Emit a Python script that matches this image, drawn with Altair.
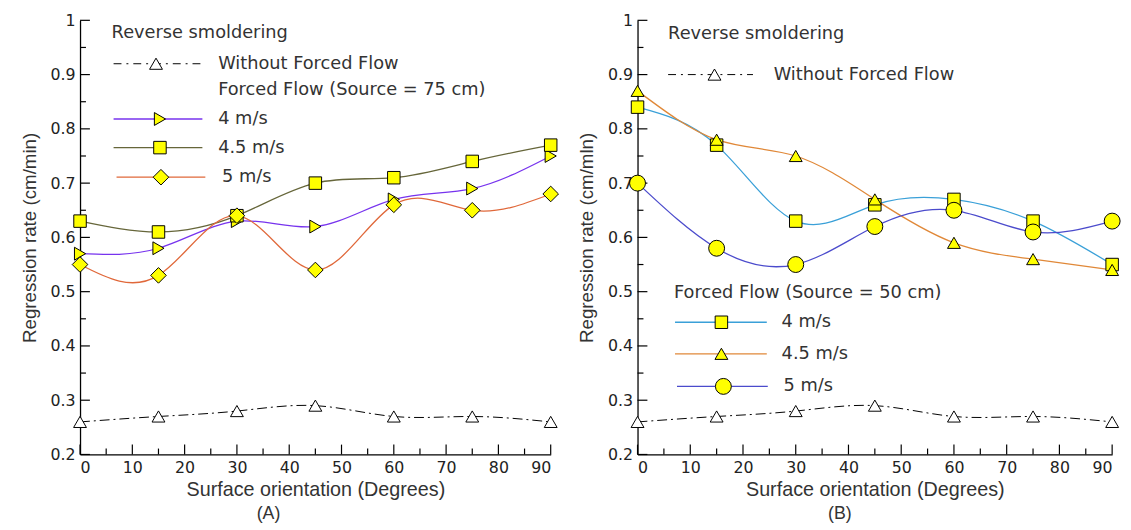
import altair as alt
import pandas as pd

# ---------------- data ----------------
angles = [0, 15, 30, 45, 60, 75, 90]

a_without = [0.26, 0.27, 0.28, 0.29, 0.27, 0.27, 0.26]
a_4 = [0.57, 0.58, 0.63, 0.62, 0.67, 0.69, 0.75]
a_45 = [0.63, 0.61, 0.64, 0.70, 0.71, 0.74, 0.77]
a_5 = [0.55, 0.53, 0.64, 0.54, 0.66, 0.65, 0.68]

b_without = [0.26, 0.27, 0.28, 0.29, 0.27, 0.27, 0.26]
b_4 = [0.84, 0.77, 0.63, 0.66, 0.67, 0.63, 0.55]
b_45 = [0.87, 0.78, 0.75, 0.67, 0.59, 0.56, 0.54]
b_5 = [0.70, 0.58, 0.55, 0.62, 0.65, 0.61, 0.63]

series_names = ["4 m/s", "4.5 m/s", "5 m/s"]

y_major = [0.2, 0.3, 0.4, 0.5, 0.6, 0.7, 0.8, 0.9, 1.0]
y_minor = [0.25, 0.35, 0.45, 0.55, 0.65, 0.75, 0.85, 0.95]
x_major = [0, 10, 20, 30, 40, 50, 60, 70, 80, 90]
x_minor = [5, 15, 25, 35, 45, 55, 65, 75, 85]

TFONT = "Liberation Sans"
LFONT = "DejaVu Sans"
H = 440
W_A = 477
W_B = 481


def X(field, title):
    return alt.X(
        f"{field}:Q",
        scale=alt.Scale(domain=[0, 90], nice=False, zero=False),
        axis=alt.Axis(values=x_major, title=title, labelPadding=5, titlePadding=5,
                      labelFontSize=16, titleFontSize=20, labelColor="#222",
                      titleColor="#333", domainColor="black", domainWidth=1.3,
                      ticks=False, grid=False, labelFont=LFONT, titleFont=TFONT,
                      titleFontWeight="normal"),
    )


def Y(field, title):
    return alt.Y(
        f"{field}:Q",
        scale=alt.Scale(domain=[0.2, 1.0], nice=False, zero=False),
        axis=alt.Axis(values=y_major, title=title, labelPadding=5, titlePadding=11,
                      labelExpr="datum.value == 1 ? '1' : format(datum.value, '.1f')",
                      labelFontSize=16, titleFontSize=19, labelColor="#222",
                      titleColor="#333", domainColor="black", domainWidth=1.3,
                      ticks=False, grid=False, labelFont=LFONT, titleFont=TFONT,
                      titleFontWeight="normal"),
    )


one = pd.DataFrame({"k": [0]})


def legend_text(txt, px, py, size=18, font=LFONT):
    return alt.Chart(one).mark_text(
        align="left", baseline="middle", font=font, fontSize=size, color="#333"
    ).encode(x=alt.value(px), y=alt.value(py), text=alt.value(txt))


def legend_line(x1, x2, py, color, dash=None):
    kw = dict(color=color, strokeWidth=1.3)
    if dash is not None:
        kw["strokeDash"] = dash
        kw["strokeWidth"] = 1
    return alt.Chart(one).mark_rule(**kw).encode(
        x=alt.value(x1), x2=alt.value(x2), y=alt.value(py)
    )


def legend_marker(px, py, shape, size, fill):
    return alt.Chart(one).mark_point(
        shape=shape, size=size, filled=True, fill=fill, stroke="black",
        strokeWidth=1, opacity=1
    ).encode(x=alt.value(px), y=alt.value(py))


def panel(without, series, colors, shapes, sizes, ytitle, label, label_x, legend):
    xt = "Surface orientation (Degrees)"
    df_w = pd.DataFrame({"angle": angles, "rate": without})

    w_line = alt.Chart(df_w).mark_line(
        interpolate="natural", color="black", strokeWidth=1, strokeDash=[10, 4, 2, 4]
    ).encode(x=X("angle", xt), y=Y("rate", ytitle))
    w_pts = alt.Chart(df_w).mark_point(
        shape="triangle-up", size=170, filled=True, fill="white", stroke="black",
        strokeWidth=1, opacity=1
    ).encode(x=X("angle", xt), y=Y("rate", ytitle))

    line_layers = []
    point_layers = []
    for vals, col, shp, sz in zip(series, colors, shapes, sizes):
        d = pd.DataFrame({"angle": angles, "rate": vals})
        line_layers.append(
            alt.Chart(d).mark_line(interpolate="natural", strokeWidth=1.3, color=col)
            .encode(x=X("angle", xt), y=Y("rate", ytitle))
        )
        point_layers.append(
            alt.Chart(d).mark_point(shape=shp, size=sz, filled=True, fill="#ffff00",
                                    stroke="black", strokeWidth=1, opacity=1)
            .encode(x=X("angle", xt), y=Y("rate", ytitle))
        )

    ymaj = alt.Chart(pd.DataFrame({"v": y_major})).mark_rule(color="black", strokeWidth=1.2).encode(
        y=Y("v", ytitle), x=alt.value(0), x2=alt.value(10))
    ymin = alt.Chart(pd.DataFrame({"v": y_minor})).mark_rule(color="black", strokeWidth=1.2).encode(
        y=Y("v", ytitle), x=alt.value(0), x2=alt.value(6))
    xmaj = alt.Chart(pd.DataFrame({"v": x_major})).mark_rule(color="black", strokeWidth=1.2).encode(
        x=X("v", xt), y=alt.value(H), y2=alt.value(H - 10))
    xmin = alt.Chart(pd.DataFrame({"v": x_minor})).mark_rule(color="black", strokeWidth=1.2).encode(
        x=X("v", xt), y=alt.value(H), y2=alt.value(H - 6))

    lab = legend_text(label, label_x, H + 60, size=18, font=TFONT)

    layers = [ymaj, ymin, xmaj, xmin, w_line] + line_layers + [w_pts] + point_layers + [lab] + legend
    return alt.layer(*layers)


colors_a = ["#7733ee", "#66663a", "#e0683a"]
colors_b = ["#3aa0d8", "#e08838", "#4b4bcc"]
shapes_a = ["triangle-right", "square", "diamond"]
shapes_b = ["square", "triangle-up", "circle"]
sizes_a = [170, 160, 250]
sizes_b = [160, 170, 260]

legend_a = [
    legend_text("Reverse smoldering", 32, 13),
    legend_line(34, 125, 44, "black", dash=[8, 5, 2, 5]),
    legend_marker(77, 44, "triangle-up", 170, "white"),
    legend_text("Without Forced Flow", 140, 44),
    legend_text("Forced Flow (Source = 75 cm)", 140, 71),
    legend_line(34, 124, 100, colors_a[0]),
    legend_marker(81, 100, shapes_a[0], sizes_a[0], "#ffff00"),
    legend_text("4 m/s", 140, 100),
    legend_line(34, 124, 129, colors_a[1]),
    legend_marker(81, 129, shapes_a[1], sizes_a[1], "#ffff00"),
    legend_text("4.5 m/s", 140, 129),
    legend_line(37, 127, 159, colors_a[2]),
    legend_marker(82, 159, shapes_a[2], sizes_a[2], "#ffff00"),
    legend_text("5 m/s", 144, 159),
]

legend_b = [
    legend_text("Reverse smoldering", 31, 14),
    legend_line(31, 117, 55, "black", dash=[8, 5, 2, 5]),
    legend_marker(78, 55, "triangle-up", 170, "white"),
    legend_text("Without Forced Flow", 138, 55),
    legend_text("Forced Flow (Source = 50 cm)", 37, 276),
    legend_line(38, 131, 306, colors_b[0]),
    legend_marker(85, 306, shapes_b[0], sizes_b[0], "#ffff00"),
    legend_text("4 m/s", 146, 306),
    legend_line(38, 131, 338, colors_b[1]),
    legend_marker(85, 338, shapes_b[1], sizes_b[1], "#ffff00"),
    legend_text("4.5 m/s", 146, 338),
    legend_line(40, 132, 371, colors_b[2]),
    legend_marker(87, 371, shapes_b[2], sizes_b[2], "#ffff00"),
    legend_text("5 m/s", 148, 371),
]

pa = panel(a_without, [a_4, a_45, a_5], colors_a, shapes_a, sizes_a,
           "Regression rate (cm/min)", "(A)", 179, legend_a).properties(width=W_A, height=H)
pb = panel(b_without, [b_4, b_45, b_5], colors_b, shapes_b, sizes_b,
           "Regression rate (cm/mln)", "(B)", 193, legend_b).properties(width=W_B, height=H)

chart = alt.hconcat(pa, pb, spacing=88, bounds="flush").properties(
    padding={"left": 12, "top": 1, "right": 0, "bottom": 0}
).configure_view(stroke=None)

chart.save("out.html", embed_options={"renderer": "svg", "actions": False})
